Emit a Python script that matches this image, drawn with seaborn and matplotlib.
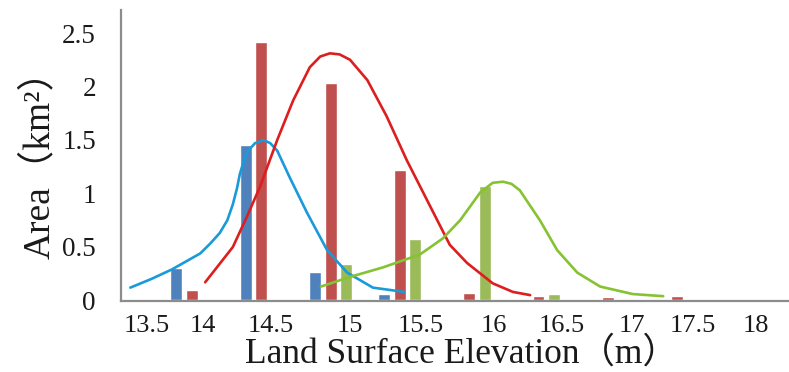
import pandas as pd
import matplotlib.pyplot as plt
import seaborn as sns

sns.set_theme(style="white")
plt.rcParams["font.family"] = ["Liberation Serif", "Noto Sans CJK SC"]

# Bar groups (bins along the elevation axis) and the three series
groups = [1, 2, 3, 4, 5, 6, 7, 8, 9]
blue_area = [0.30, 1.45, 0.27, 0.06, 0.0, 0.0, 0.0, 0.0, 0.0]
red_area = [0.10, 2.42, 2.03, 1.22, 0.07, 0.045, 0.035, 0.045, 0.008]
green_area = [0.005, 0.0, 0.34, 0.575, 1.07, 0.06, 0.0, 0.0, 0.0]

# Fitted curves (x in group units)
blue_curve_x = [0.11, 0.41, 0.71, 1.12, 1.26, 1.40, 1.51, 1.59, 1.65, 1.69, 1.75,
                1.81, 1.91, 2.03, 2.13, 2.23, 2.41, 2.66, 2.95, 3.24, 3.61, 4.06]
blue_curve_y = [0.12, 0.20, 0.29, 0.44, 0.53, 0.63, 0.75, 0.90, 1.05, 1.18, 1.31,
                1.40, 1.47, 1.50, 1.47, 1.40, 1.15, 0.82, 0.47, 0.26, 0.12, 0.08]
red_curve_x = [1.19, 1.36, 1.59, 1.79, 1.98, 2.23, 2.46, 2.70, 2.85, 2.99, 3.13,
               3.28, 3.53, 3.81, 4.10, 4.39, 4.72, 4.97, 5.34, 5.63, 5.88]
red_curve_y = [0.17, 0.31, 0.50, 0.78, 1.06, 1.50, 1.87, 2.18, 2.28, 2.31, 2.30,
               2.25, 2.06, 1.72, 1.31, 0.94, 0.52, 0.35, 0.16, 0.08, 0.05]
green_curve_x = [2.86, 3.28, 3.76, 4.29, 4.62, 4.87, 5.16, 5.34, 5.49, 5.61, 5.73,
                 6.02, 6.27, 6.56, 6.89, 7.36, 7.80]
green_curve_y = [0.13, 0.22, 0.31, 0.43, 0.58, 0.75, 1.01, 1.10, 1.11, 1.09, 1.03,
                 0.75, 0.47, 0.26, 0.13, 0.06, 0.04]

# Axis tick labels and where they sit (group units)
tick_labels = ["13.5", "14", "14.5", "15", "15.5", "16", "16.5", "17", "17.5", "18"]
tick_pos = [0.35, 1.16, 2.13, 3.28, 4.30, 5.36, 6.34, 7.35, 8.22, 9.14]
y_ticks = [0, 0.5, 1, 1.5, 2, 2.5]
y_tick_labels = ["0", "0.5", "1", "1.5", "2", "2.5"]

bar_colors = ["#4f81bd", "#c0504d", "#9bbb59"]
curve_colors = ["#1a9ad9", "#dd1e1e", "#86c232"]


def main():
    df = pd.DataFrame({
        "group": groups * 3,
        "series": ["blue"] * 9 + ["red"] * 9 + ["green"] * 9,
        "area": blue_area + red_area + green_area,
    })

    fig = plt.figure(figsize=(7.89, 3.72), dpi=100)
    ax = fig.add_axes([121 / 789, 1 - 301 / 372, 668 / 789, 291 / 372])

    sns.barplot(
        data=df, x="group", y="area", hue="series",
        palette=bar_colors, native_scale=True,
        width=0.672, gap=0.23, saturation=1,
        errorbar=None, legend=False, ax=ax,
    )

    for cx, cy, col in zip(
        [blue_curve_x, red_curve_x, green_curve_x],
        [blue_curve_y, red_curve_y, green_curve_y],
        curve_colors,
    ):
        sns.lineplot(x=cx, y=cy, sort=False, estimator=None,
                     color=col, linewidth=1.9, ax=ax)

    ax.set_xlim(-0.0245, 9.615)
    ax.set_ylim(-0.005, 2.715)

    ax.set_xticks(tick_pos, tick_labels)
    ax.set_yticks(y_ticks, y_tick_labels)
    ax.tick_params(axis="x", length=0, pad=10, labelsize=19, colors="#1a1a1a")
    ax.tick_params(axis="y", length=0, pad=18, labelsize=19.5, colors="#1a1a1a")

    ax.set_xlabel("Land Surface Elevation（m）", fontsize=25.5, labelpad=0,
                  color="#1a1a1a")
    ax.xaxis.label.set_x(0.51)
    ax.set_ylabel("Area（km²）", fontsize=27, labelpad=4, color="#1a1a1a")

    for side in ["top", "right"]:
        ax.spines[side].set_visible(False)
    for side in ["left", "bottom"]:
        ax.spines[side].set_color("#8c8c8c")
        ax.spines[side].set_linewidth(1.6)

    fig.savefig("out.png", dpi=100)


if __name__ == "__main__":
    main()
